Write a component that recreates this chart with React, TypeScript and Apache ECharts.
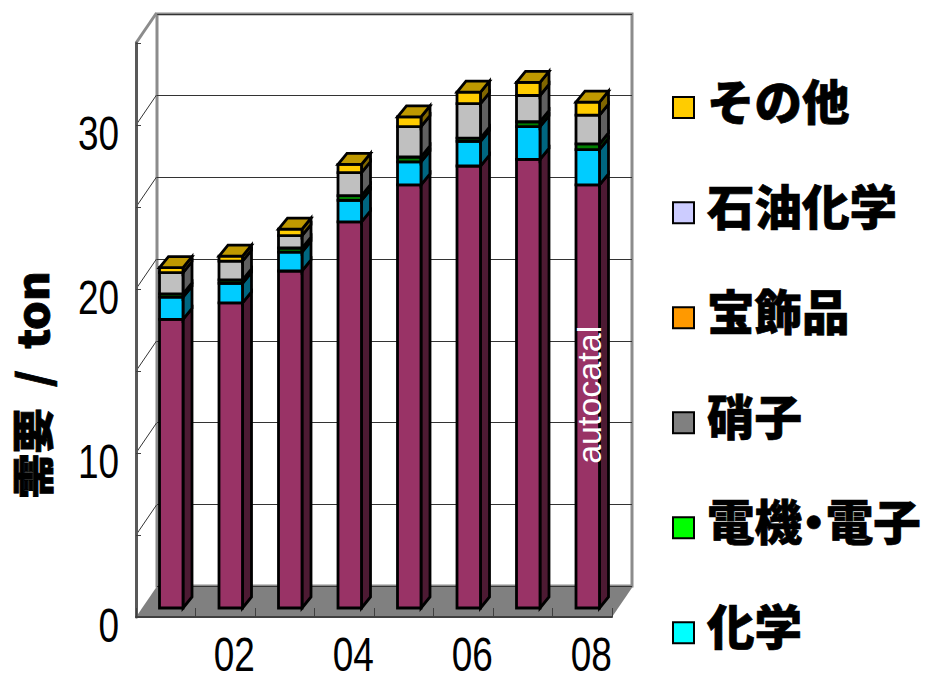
import React, { useEffect, useRef } from "react";
import * as echarts from "echarts";

const years = ["01", "02", "03", "04", "05", "06", "07", "08"];
const xTickLabels = ["02", "04", "06", "08"];
const yTickLabels = [0, 10, 20, 30];
const autocatal = [17.6, 18.6, 20.55, 23.55, 25.8, 26.95, 27.35, 25.8];
const chemical = [1.35, 1.2, 1.15, 1.3, 1.4, 1.5, 2.0, 2.15];
const electronics = [0.2, 0.2, 0.25, 0.3, 0.3, 0.2, 0.3, 0.35];
const glass = [1.3, 1.15, 0.75, 1.4, 1.85, 2.1, 1.6, 1.75];
const jewellery = [0, 0, 0, 0, 0, 0, 0, 0];
const petrochemical = [0, 0, 0, 0, 0, 0, 0, 0];
const others = [0.3, 0.3, 0.4, 0.5, 0.6, 0.7, 0.8, 0.8];
const legendOrder = ["その他", "石油化学", "宝飾品", "硝子", "電機・電子", "化学"];
const wallTicks = [5, 10, 15, 20, 25, 30, 35];

const stackNames = ["autocatal", "化学", "電機・電子", "硝子", "宝飾品", "石油化学", "その他"];
const stackValues = [autocatal, chemical, electronics, glass, jewellery, petrochemical, others];
const legendColors = ["#993366", "#00FFFF", "#00FF00", "#808080", "#FF9900", "#CCCCFF", "#FFCC00"];
const frontColors = ["#993366", "#00CCFF", "#008000", "#C0C0C0", "#FF9900", "#CCCCFF", "#FFCC00"];
const sideColors = ["#4D1A33", "#006680", "#004000", "#606060", "#804D00", "#666680", "#806600"];
const topColor = "#BF9900";

const WALL_DX = 20.5;
const WALL_DY = -30;
const BAR_SHIFT_X = 5.5;
const BAR_SHIFT_Y = -9;
const BAR_DX = 9;
const BAR_DY = -11;
const TICK_FONT = '48px "Liberation Sans", sans-serif';
const TICK_SCALE_X = 0.77;
const FONT_CJK = '"Noto Sans CJK JP", sans-serif';

const quad = (pts: number[][], fill: string, stroke: string, lineWidth: number) => ({
  type: "polygon",
  shape: { points: pts },
  style: { fill, stroke, lineWidth, lineJoin: "miter" },
});

function stackSeries(si: number) {
  return {
    type: "custom",
    name: stackNames[si],
    xAxisIndex: 0,
    yAxisIndex: 0,
    z: 3,
    itemStyle: { color: legendColors[si] },
    encode: { x: 0, y: 1 },
    data: stackValues[si].map((v, i) => [i, v]),
    renderItem: (_p: any, api: any) => {
      const idx = api.value(0);
      const val = api.value(1);
      if (!val) return { type: "group", children: [] };
      let base = 0;
      for (let k = 0; k < si; k++) base += stackValues[k][idx];
      const lo = api.coord([idx, base]);
      const hi = api.coord([idx, base + val]);
      const w = api.size([1, 0])[0] * 0.395;
      const x0 = lo[0] + BAR_SHIFT_X - w / 2;
      const x1 = x0 + w;
      const yb = lo[1] + BAR_SHIFT_Y;
      const yt = hi[1] + BAR_SHIFT_Y;
      const lw = 2.8;
      const children: any[] = [
        quad([[x1, yb], [x1 + BAR_DX, yb + BAR_DY], [x1 + BAR_DX, yt + BAR_DY], [x1, yt]], sideColors[si], "#000", lw),
        quad([[x0, yb], [x1, yb], [x1, yt], [x0, yt]], frontColors[si], "#000", lw),
      ];
      if (si === stackNames.length - 1) {
        children.push(quad([[x0, yt], [x1, yt], [x1 + BAR_DX, yt + BAR_DY], [x0 + BAR_DX, yt + BAR_DY]], topColor, "#000", lw));
      }
      if (si === 0 && idx === years.length - 1) {
        const c = api.coord([idx, 13]);
        children.push({
          type: "text",
          x: c[0] + BAR_SHIFT_X + 1.5,
          y: c[1] + BAR_SHIFT_Y,
          rotation: Math.PI / 2,
          style: {
            text: stackNames[0],
            fill: "#fff",
            font: '34px "Liberation Sans", sans-serif',
            align: "center",
            verticalAlign: "middle",
          },
        });
      }
      return { type: "group", children };
    },
  };
}

const tickText = (text: string, x: number, y: number, align: string) => ({
  type: "text",
  x,
  y,
  scaleX: TICK_SCALE_X,
  style: { text, fill: "#000", font: TICK_FONT, align, verticalAlign: "middle" },
});

export default function App() {
  const ref = useRef<HTMLDivElement>(null);
  useEffect(() => {
    const chart = echarts.init(ref.current!, undefined, { renderer: "svg" });
    chart.setOption({
      animation: false,
      backgroundColor: "#fff",
      grid: [
        { left: 136, top: 43, width: 476, height: 574 },
        { left: 157, top: 14, width: 475, height: 572, show: true, borderColor: "#8C8C8C", borderWidth: 3, backgroundColor: "transparent" },
      ],
      xAxis: [
        {
          type: "category",
          gridIndex: 0,
          data: years,
          z: 4,
          axisLine: { lineStyle: { color: "#404040", width: 2 } },
          axisTick: { show: true, inside: true, length: 9, interval: 0, lineStyle: { color: "#404040", width: 1 } },
          axisLabel: { show: false },
        },
        { type: "category", gridIndex: 1, data: years, show: false },
      ],
      yAxis: [
        {
          type: "value",
          gridIndex: 0,
          min: 0,
          max: 35,
          interval: 5,
          z: 4,
          splitLine: { show: false },
          axisLine: { show: true, lineStyle: { color: "#595959", width: 3 } },
          axisTick: { show: true, inside: true, length: 5, lineStyle: { color: "#404040", width: 1 } },
          axisLabel: { show: false },
        },
        {
          type: "value",
          gridIndex: 1,
          min: 0,
          max: 35,
          interval: 5,
          axisLine: { show: false },
          axisTick: { show: false },
          axisLabel: { show: false },
          splitLine: { show: true, lineStyle: { color: "#333", width: 1 } },
        },
      ],
      legend: {
        data: legendOrder,
        left: 672,
        top: 75,
        padding: 0,
        orient: "vertical",
        icon: "rect",
        itemWidth: 21,
        itemHeight: 21,
        itemGap: 40.2,
        selectedMode: false,
        itemStyle: { borderColor: "#000", borderWidth: 2 },
        formatter: "{a|{name}}",
        textStyle: {
          color: "#000",
          fontFamily: FONT_CJK,
          fontWeight: 900,
          fontSize: 47.5,
          textBorderColor: "#000",
          textBorderWidth: 0.7,
          rich: {
            a: {
              color: "#000",
              fontFamily: FONT_CJK,
              fontWeight: 900,
              fontSize: 47.5,
              lineHeight: 47,
              textBorderColor: "#000",
              textBorderWidth: 0.7,
              padding: [0, 0, 17, 8],
            },
          },
        },
      },
      graphic: [
        {
          type: "text",
          x: 31,
          y: 385,
          rotation: Math.PI / 2,
          scaleX: 1.08,
          style: {
            text: "需要  /  ton",
            fill: "#000",
            stroke: "#000",
            lineWidth: 0.8,
            font: `900 42px ${FONT_CJK}`,
            align: "center",
            verticalAlign: "middle",
          },
        },
      ],
      series: [
        {
          type: "custom",
          name: "floor",
          z: 1,
          xAxisIndex: 0,
          yAxisIndex: 0,
          data: [[0, 0]],
          renderItem: (_p: any, api: any) => {
            const half = api.size([1, 0])[0] / 2;
            const l = api.coord([0, 0]);
            const r = api.coord([years.length - 1, 0]);
            const x0 = l[0] - half;
            const x1 = r[0] + half;
            return quad(
              [[x0, l[1]], [x1, l[1]], [x1 + WALL_DX, l[1] + WALL_DY], [x0 + WALL_DX, l[1] + WALL_DY]],
              "#808080",
              "none",
              0
            );
          },
        },
        {
          type: "custom",
          name: "wall",
          z: 1,
          xAxisIndex: 0,
          yAxisIndex: 0,
          data: wallTicks.map((v) => [0, v]),
          renderItem: (_p: any, api: any) => {
            const v = api.value(1);
            const half = api.size([1, 0])[0] / 2;
            const c = api.coord([0, v]);
            const top = v === wallTicks[wallTicks.length - 1];
            return {
              type: "line",
              shape: { x1: c[0] - half, y1: c[1], x2: c[0] - half + WALL_DX, y2: c[1] + WALL_DY },
              style: { stroke: top ? "#8C8C8C" : "#333", lineWidth: top ? 3 : 1 },
            };
          },
        },
        ...stackNames.map((_, i) => stackSeries(i)),
        {
          type: "custom",
          name: "yTickLabels",
          z: 5,
          xAxisIndex: 0,
          yAxisIndex: 0,
          data: yTickLabels.map((v) => [0, v]),
          renderItem: (_p: any, api: any) => {
            const half = api.size([1, 0])[0] / 2;
            const c = api.coord([0, api.value(1)]);
            return tickText(String(api.value(1)), c[0] - half - 17, c[1] + 8, "right");
          },
        },
        {
          type: "custom",
          name: "xTickLabels",
          z: 5,
          xAxisIndex: 0,
          yAxisIndex: 0,
          data: xTickLabels.map((l) => [years.indexOf(l), 0]),
          renderItem: (_p: any, api: any) => {
            const c = api.coord([api.value(0), 0]);
            return tickText(years[api.value(0)], c[0] + 9, c[1] + 37.5, "center");
          },
        },
      ],
    });
    ref.current!.querySelectorAll("text").forEach((t) => {
      if (t.textContent === "電機・電子") (t as SVGElement).style.fontFeatureSettings = '"palt"';
    });
    return () => chart.dispose();
  }, []);
  return <div ref={ref} style={{ position: "absolute", left: 0, top: 0, width: 951, height: 681 }} />;
}
